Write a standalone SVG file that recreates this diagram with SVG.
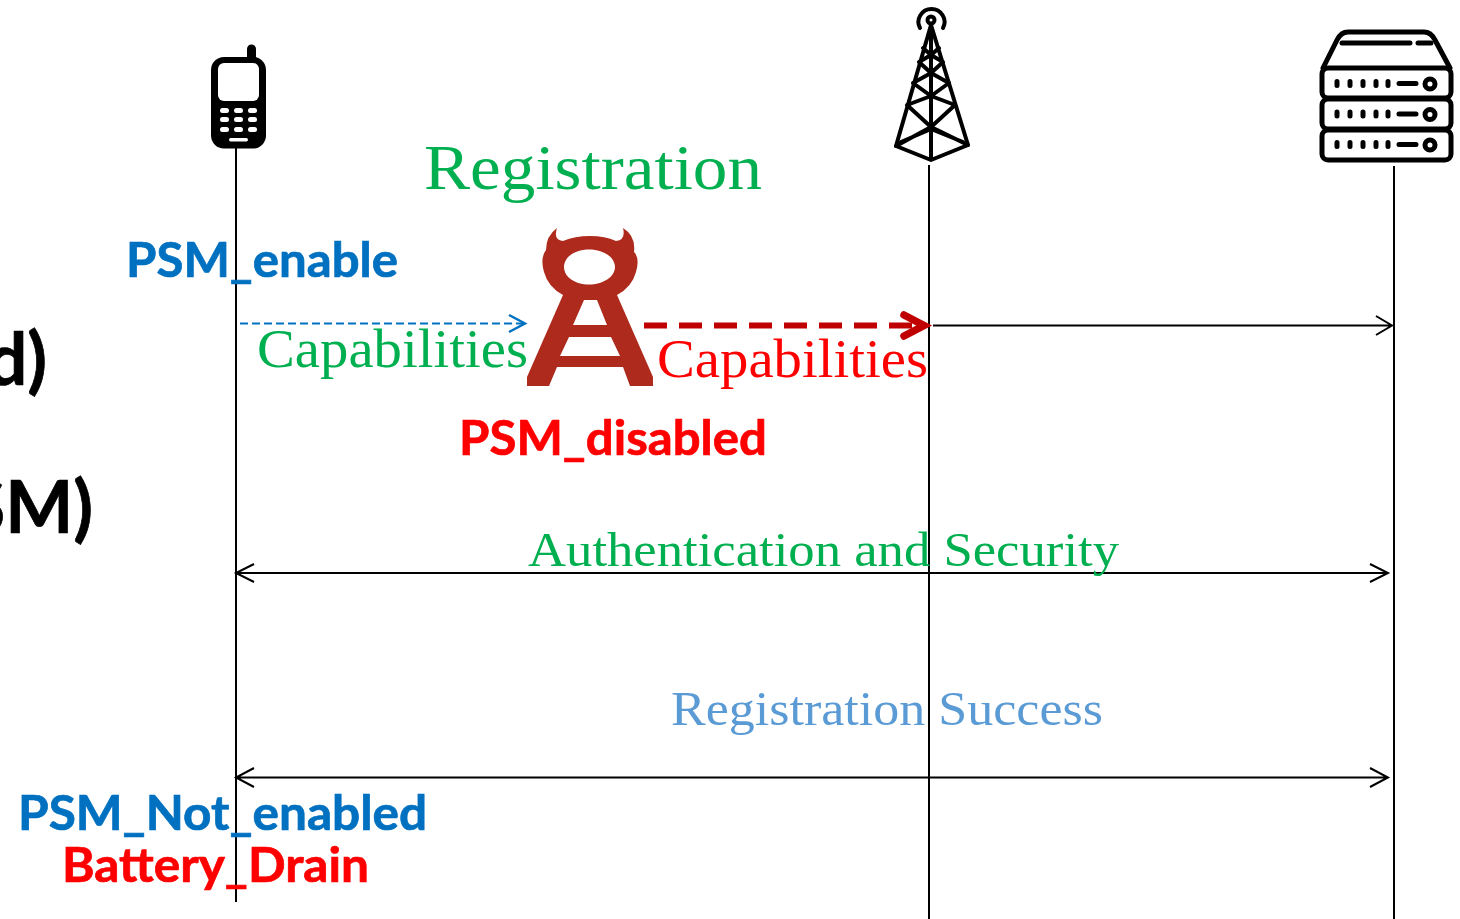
<svg xmlns="http://www.w3.org/2000/svg" width="1460" height="919" viewBox="0 0 1460 919">
<style>
.b{font-family:"Lato","Open Sans","Liberation Sans",sans-serif;font-weight:700;stroke-width:.7}
.s{font-family:"Liberation Serif","DejaVu Serif",serif}
.blue{fill:#0070c0;stroke:#0070c0}.red{fill:#f00;stroke:#f00}.green{fill:#00b050}
.life{stroke:#000;stroke-width:2;fill:none}
.open{fill:none;stroke:#000;stroke-width:2}
.tw{fill:none;stroke:#000;stroke-width:4;stroke-linejoin:round;stroke-linecap:round}
.sv{fill:none;stroke:#000;stroke-width:5;stroke-linejoin:round;stroke-linecap:round}
</style>
<rect width="1460" height="919" fill="#fff"/>
<g id="connectors">
<path class="life" d="M236 148V902M929 165V919M1394 166V919"/>
<path d="M240 323.500H524" fill="none" stroke="#0070c0" stroke-width="2" stroke-dasharray="8 4"/>
<path d="M509 315l16 8.500-16 8.500" fill="none" stroke="#0070c0" stroke-width="2.400"/>
<path d="M644 325.500H920" fill="none" stroke="#c00000" stroke-width="6" stroke-dasharray="23 12"/>
<path d="M904 315l20 10.500-20 10.500" fill="none" stroke="#c00000" stroke-width="7.500" stroke-linecap="round"/>
<path class="open" d="M933 325.500H1392M1376 316l16 9.500-16 9.500"/>
<path class="open" d="M237 573H1388M254 564l-18 9 18 9M1370 564l18 9-18 9"/>
<path class="open" d="M237 777.500H1388M254 768l-18 9.500 18 9.500M1370 768l18 9.500-18 9.500"/>
</g>
<g id="phone">
<path d="M247 58V49a4.500 4.500 0 0 1 9 0V58z"/>
<rect x="211" y="57" width="55" height="91.500" rx="13"/>
<rect x="218" y="63" width="41" height="38" rx="6" fill="#fff"/>
<g fill="#fff">
<rect x="220" y="108" width="9" height="5" rx="2.500"/><rect x="234" y="108" width="9" height="5" rx="2.500"/><rect x="248" y="108" width="9" height="5" rx="2.500"/>
<rect x="220" y="117" width="9" height="5" rx="2.500"/><rect x="234" y="117" width="9" height="5" rx="2.500"/><rect x="248" y="117" width="9" height="5" rx="2.500"/>
<rect x="220" y="127" width="9" height="5" rx="2.500"/><rect x="234" y="127" width="9" height="5" rx="2.500"/><rect x="248" y="127" width="9" height="5" rx="2.500"/>
<rect x="229" y="138" width="19" height="3.500" rx="1.700"/>
</g>
</g>
<g id="tower">
<path class="tw" d="M920 28A13 13 0 1 1 943 28"/>
<circle cx="931" cy="20" r="3.500" class="tw"/>
<path class="tw" d="M931 25L896 146L931 160L968 145ZM931 25V160"/>
<path class="tw" d="M896 146L931 127L968 145M901 142L931 129L963 142M907 105L931 127L955 105L931 96L907 105M913 83L931 96L949 83L931 73L913 83M919 62L931 73L943 62L931 55L919 62M923 48L931 55L939 48"/>
</g>
<g id="server">
<path class="sv" d="M1323 68L1337 40Q1341 32 1348 32H1424Q1431 32 1435 40L1450 68"/>
<path class="sv" d="M1342 43H1410M1418 43H1431"/>
<rect class="sv" x="1322" y="68" width="129" height="30" rx="6"/>
<rect class="sv" x="1322" y="99" width="129" height="30" rx="6"/>
<rect class="sv" x="1322" y="130" width="129" height="30" rx="6"/>
<path class="sv" d="M1337 81.500v4M1350 81.500v4M1363 81.500v4M1376 81.500v4M1388 81.500v4M1399 83.500H1416M1337 112v4M1350 112v4M1363 112v4M1376 112v4M1388 112v4M1399 114H1416M1337 142.500v4M1350 142.500v4M1363 142.500v4M1376 142.500v4M1388 142.500v4M1399 144.500H1416"/>
<circle class="sv" cx="1430" cy="84" r="5"/><circle class="sv" cx="1430" cy="114.500" r="5"/><circle class="sv" cx="1430" cy="145" r="5"/>
</g>
<g id="attacker">
<path fill="#ad2a1c" fill-rule="evenodd" d="M557 228Q553 240 563 241Q575 236 590 236Q605 236 616 241Q626 240 623 228Q636 236 634 252Q640 258 636 272Q632 287 617 295L653 377V386H630L623 367H557L549 386H527V377L563 295Q548 287 544 272Q540 258 546 250Q546 236 557 228ZM589 249.500C575 249.500 564 257 564 267C564 277 575 284.500 589 284.500C603 284.500 615 277 615 267C615 257 603 249.500 589 249.500ZM584 300L573 325H607L597 300ZM569 337L560 356H620L611 337Z"/>
</g>
<g id="labels">
<text class="s green" x="424" y="189" font-size="64" textLength="338" lengthAdjust="spacingAndGlyphs">Registration</text>
<text class="b blue" x="126" y="277" font-size="47" textLength="272" lengthAdjust="spacingAndGlyphs">PSM_enable</text>
<text class="s green" x="257" y="367" font-size="54" textLength="271" lengthAdjust="spacingAndGlyphs">Capabilities</text>
<text class="s red" style="stroke:none" x="657" y="377" font-size="54" textLength="271" lengthAdjust="spacingAndGlyphs">Capabilities</text>
<text class="b red" x="459" y="455" font-size="47" textLength="308" lengthAdjust="spacingAndGlyphs">PSM_disabled</text>
<text class="b" stroke="#000" x="47" y="385" font-size="72" text-anchor="end">d)</text>
<text class="b" stroke="#000" x="93" y="533" font-size="72" text-anchor="end">SM)</text>
<text class="s green" x="528" y="566" font-size="49" textLength="591" lengthAdjust="spacingAndGlyphs">Authentication and Security</text>
<text class="s" x="671" y="725" font-size="49" fill="#5b9bd5" textLength="432" lengthAdjust="spacingAndGlyphs">Registration Success</text>
<text class="b blue" x="18" y="830" font-size="47" textLength="409" lengthAdjust="spacingAndGlyphs">PSM_Not_enabled</text>
<text class="b red" x="62" y="882" font-size="47" textLength="307" lengthAdjust="spacingAndGlyphs">Battery_Drain</text>
</g>
</svg>
